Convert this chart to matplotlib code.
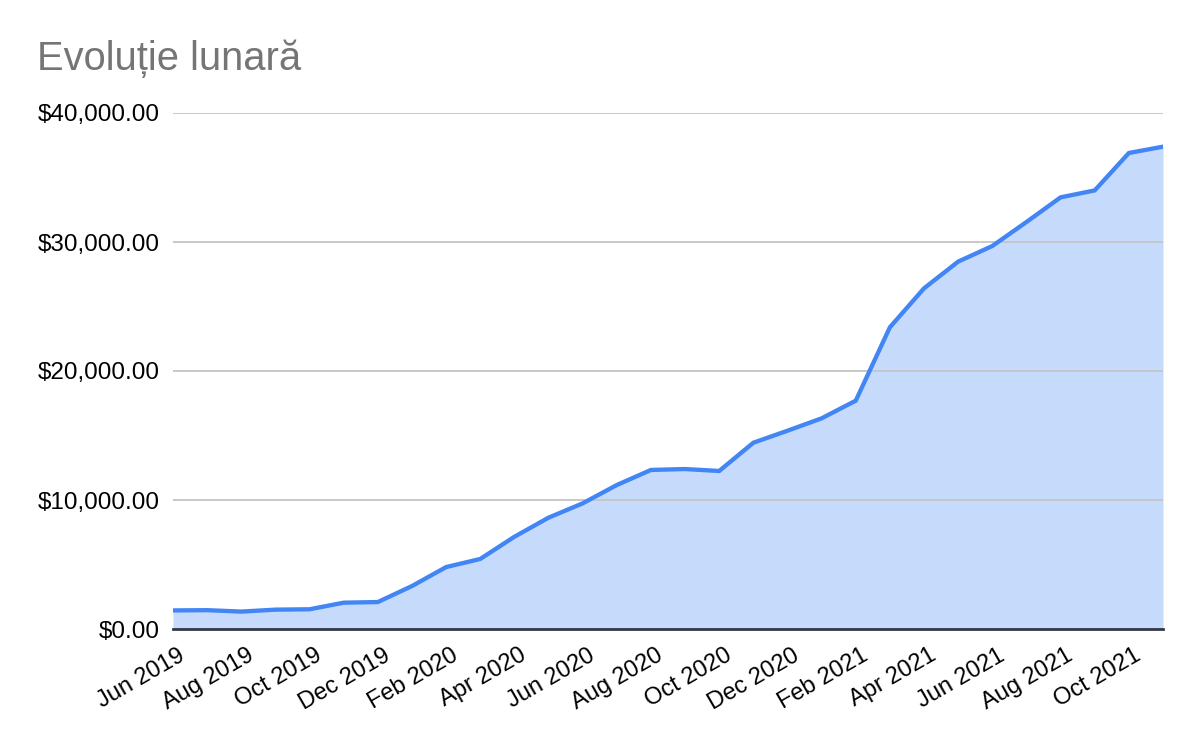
import matplotlib
matplotlib.use("Agg")
import matplotlib.pyplot as plt
from matplotlib.ticker import FuncFormatter
from matplotlib.transforms import ScaledTranslation

plt.rcParams['font.family'] = ['Liberation Sans', 'DejaVu Sans']

months = ["Jun 2019", "Jul 2019", "Aug 2019", "Sep 2019", "Oct 2019", "Nov 2019",
          "Dec 2019", "Jan 2020", "Feb 2020", "Mar 2020", "Apr 2020", "May 2020",
          "Jun 2020", "Jul 2020", "Aug 2020", "Sep 2020", "Oct 2020", "Nov 2020",
          "Dec 2020", "Jan 2021", "Feb 2021", "Mar 2021", "Apr 2021", "May 2021",
          "Jun 2021", "Jul 2021", "Aug 2021", "Sep 2021", "Oct 2021", "Nov 2021"]
values = [1440, 1460, 1350, 1500, 1530, 2040, 2090, 3330, 4800, 5430,
          7150, 8630, 9740, 11160, 12330, 12400, 12250, 14440, 15370, 16330,
          17700, 23390, 26410, 28480, 29690, 31550, 33460, 34000, 36900, 37390]
y_ticks = [0, 10000, 20000, 30000, 40000]
title = "Evoluție lunară"

fig = plt.figure(figsize=(12, 7.42), dpi=100)
ax = fig.add_axes([173/1200, 1-629/742, (1163-173)/1200, (629-113)/742])

x = list(range(len(values)))
ax.fill_between(x, values, 0, color="#C6DAFC", linewidth=0, zorder=1)
ax.plot(x, values, color="#4285F4", linewidth=3.1, solid_joinstyle="miter", zorder=3)

ax.set_xlim(0, len(values) - 1)
ax.set_ylim(0, 40000)
ax.set_yticks(y_ticks)
ax.yaxis.set_major_formatter(FuncFormatter(lambda v, p: f"${v:,.2f}"))
ax.grid(axis="y", color="#C4C4C4", linewidth=1.3, zorder=2)
for s in ["top", "right", "left"]:
    ax.spines[s].set_visible(False)
ax.spines["bottom"].set_color("#333A46")
ax.spines["bottom"].set_linewidth(2)
ax.spines["bottom"].set_zorder(4)

ax.set_xticks(x[::2])
ax.set_xticklabels(months[::2], rotation=30, ha="right", rotation_mode="anchor")
ax.tick_params(axis="x", length=0, pad=11, labelsize=17, labelcolor="#000000")
ax.tick_params(axis="y", length=0, pad=9.5, labelsize=17.5, labelcolor="#000000")
offset = ScaledTranslation(5/100, 0, fig.dpi_scale_trans)
for lbl in ax.get_xticklabels():
    lbl.set_transform(lbl.get_transform() + offset)

fig.text(37/1200, 1-70/742, title, fontsize=28.7, color="#757575", ha="left", va="baseline")

fig.savefig("out.png", dpi=100, facecolor="white")
